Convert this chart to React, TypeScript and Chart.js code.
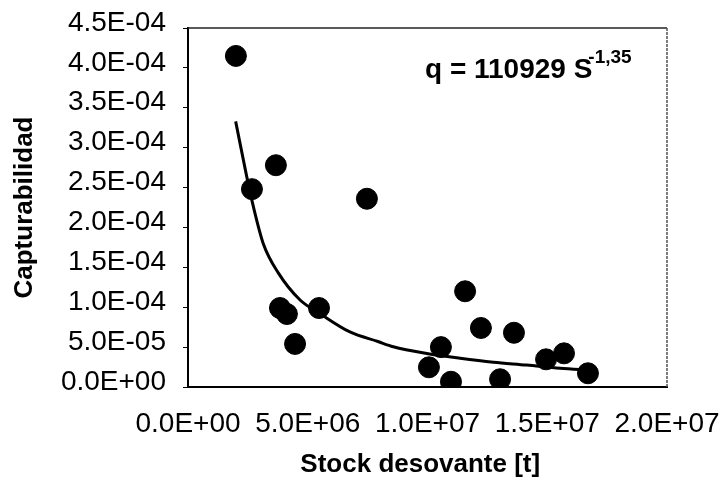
import React, { useEffect, useRef } from "react";
import { Chart, registerables } from "chart.js";

Chart.register(...registerables);

// Observed points: spawning stock [t] vs catchability
const stock = [2.0e6, 2.67e6, 3.67e6, 3.84e6, 4.13e6, 4.47e6, 5.47e6, 7.47e6, 1.006e7, 1.056e7, 1.098e7, 1.157e7, 1.223e7, 1.303e7, 1.361e7, 1.495e7, 1.57e7, 1.67e7];
const capturabilidad = [4.15e-4, 2.48e-4, 2.78e-4, 9.9e-5, 9.15e-5, 5.4e-5, 9.9e-5, 2.36e-4, 2.47e-5, 5.0e-5, 6.6e-6, 1.2e-4, 7.4e-5, 9.7e-6, 6.8e-5, 3.47e-5, 4.22e-5, 1.72e-5];

// Trend curve
const trendX = [1.99e6, 2.45e6, 2.73e6, 3.14e6, 3.77e6, 4.68e6, 5.51e6, 6.76e6, 7.93e6, 8.57e6, 9.97e6, 1.136e7, 1.275e7, 1.414e7, 1.553e7, 1.679e7];
const trendY = [3.33e-4, 2.64e-4, 2.26e-4, 1.8e-4, 1.43e-4, 1.09e-4, 9.2e-5, 6.9e-5, 5.7e-5, 5.05e-5, 4.2e-5, 3.6e-5, 3.1e-5, 2.75e-5, 2.35e-5, 2.1e-5];

const xTicks = [0, 5e6, 1e7, 1.5e7, 2e7];
const xTickLabels = ["0.0E+00", "5.0E+06", "1.0E+07", "1.5E+07", "2.0E+07"];
const yTickLabels = ["0.0E+00", "5.0E-05", "1.0E-04", "1.5E-04", "2.0E-04", "2.5E-04", "3.0E-04", "3.5E-04", "4.0E-04", "4.5E-04"];

const equationMain = "q = 110929 S";
const equationExp = "-1,35";
const xTitle = "Stock desovante [t]";
const yTitle = "Capturabilidad";

const FONT = "'Liberation Sans', Arial, sans-serif";

const boxAndEquation = {
  id: "boxAndEquation",
  afterDraw(chart: any) {
    const { ctx, chartArea } = chart;
    const { left, right, top, bottom } = chartArea;
    ctx.save();
    // top border
    ctx.strokeStyle = "#222";
    ctx.lineWidth = 1.5;
    ctx.beginPath();
    ctx.moveTo(left, top);
    ctx.lineTo(right, top);
    ctx.stroke();
    // right border (dotted look)
    ctx.strokeStyle = "#555";
    ctx.lineWidth = 1.5;
    ctx.setLineDash([3, 1]);
    ctx.beginPath();
    ctx.moveTo(right, top);
    ctx.lineTo(right, bottom);
    ctx.stroke();
    ctx.setLineDash([]);
    // equation
    ctx.fillStyle = "#000";
    ctx.textBaseline = "alphabetic";
    ctx.textAlign = "left";
    ctx.font = `bold 28px ${FONT}`;
    const ex = left + 237;
    const ey = top + 50;
    ctx.fillText(equationMain, ex, ey);
    const w = ctx.measureText(equationMain).width;
    ctx.font = `bold 19px ${FONT}`;
    ctx.fillText(equationExp, ex + w - 4, ey - 15);
    ctx.restore();
  },
};

export default function App() {
  const ref = useRef<HTMLCanvasElement>(null);
  useEffect(() => {
    if (!ref.current) return;
    const chart = new Chart(ref.current, {
      type: "scatter",
      data: {
        datasets: [
          {
            label: "Tendencia",
            data: trendX.map((x, i) => ({ x, y: trendY[i] })),
            showLine: true,
            borderColor: "#000",
            borderWidth: 3,
            pointRadius: 0,
            tension: 0.4,
            cubicInterpolationMode: "monotone",
            order: 2,
          },
          {
            label: "Observado",
            data: stock.map((x, i) => ({ x, y: capturabilidad[i] })),
            showLine: false,
            backgroundColor: "#000",
            borderColor: "#000",
            pointRadius: 10.5,
            order: 1,
          },
        ],
      },
      options: {
        animation: false,
        responsive: true,
        maintainAspectRatio: false,
        layout: { padding: { top: 28, right: 57, bottom: 0, left: 0 } },
        plugins: { legend: { display: false }, tooltip: { enabled: false } },
        scales: {
          x: {
            type: "linear",
            min: 0,
            max: 2e7,
            afterFit(scale: any) {
              scale.height = 93;
              scale.paddingLeft = 0;
              scale.paddingRight = 0;
            },
            afterBuildTicks(scale: any) {
              scale.ticks = xTicks.map((v) => ({ value: v }));
            },
            ticks: {
              color: "#000",
              font: { family: FONT, size: 28 },
              padding: 20,
              maxRotation: 0,
              autoSkip: false,
              callback: (v: any, i: number) => xTickLabels[i],
            },
            grid: { drawOnChartArea: false, drawTicks: false },
            border: { display: true, color: "#000", width: 2 },
            title: {
              display: true,
              text: xTitle + "\u00a0\u00a0",
              color: "#000",
              font: { family: FONT, size: 26, weight: "bold" },
              padding: { top: 0, bottom: 0 },
            },
          },
          y: {
            type: "linear",
            min: 0,
            max: 4.5e-4,
            afterFit(scale: any) {
              scale.width = 188;
              scale.paddingTop = 0;
              scale.paddingBottom = 0;
            },
            ticks: {
              stepSize: 5e-5,
              color: "#000",
              font: { family: FONT, size: 28 },
              padding: 17,
              labelOffset: -5,
              autoSkip: false,
              callback: (v: any, i: number) => yTickLabels[i],
            },
            grid: { drawOnChartArea: false, drawTicks: true, tickLength: 5, color: "#000" },
            border: { display: true, color: "#000", width: 2 },
            title: {
              display: true,
              text: yTitle,
              color: "#000",
              font: { family: FONT, size: 26, weight: "bold" },
              padding: { top: 9, bottom: 0 },
            },
          },
        },
      },
      plugins: [boxAndEquation],
    });
    return () => chart.destroy();
  }, []);
  return (
    <div style={{ position: "fixed", left: 0, top: 0, width: 724, height: 480, background: "#fff" }}>
      <canvas ref={ref} />
    </div>
  );
}
